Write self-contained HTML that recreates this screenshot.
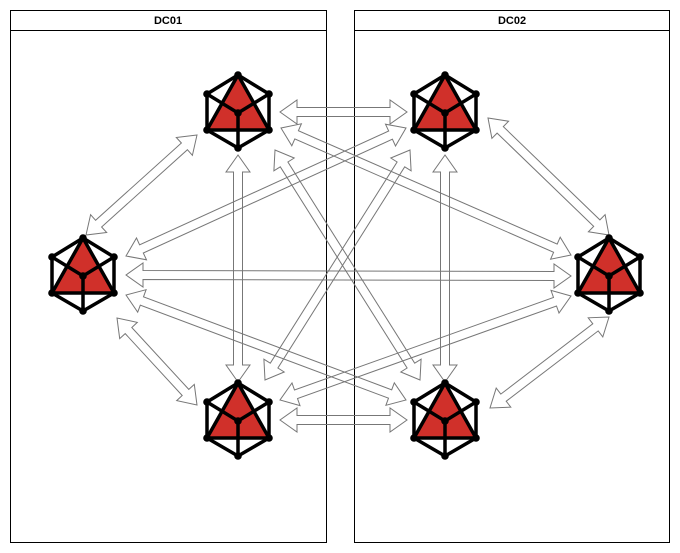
<!DOCTYPE html>
<html><head><style>
body{margin:0;width:680px;height:553px;background:#fff;overflow:hidden}
</style></head><body>
<svg id="s" width="680" height="553" xmlns="http://www.w3.org/2000/svg" style="position:absolute;left:0;top:0">
<rect x="10.5" y="10.5" width="316" height="532" fill="none" stroke="#000" stroke-width="1"/>
<line x1="10" y1="30.5" x2="326" y2="30.5" stroke="#000"/>
<text x="168" y="24" text-anchor="middle" font-family="Liberation Sans, sans-serif" font-size="11" font-weight="bold">DC01</text>
<rect x="354.5" y="10.5" width="315" height="532" fill="none" stroke="#000" stroke-width="1"/>
<line x1="354" y1="30.5" x2="670" y2="30.5" stroke="#000"/>
<text x="512" y="24" text-anchor="middle" font-family="Liberation Sans, sans-serif" font-size="11" font-weight="bold">DC02</text>
<g id="arrows" fill="none" stroke="#777" stroke-width="1"></g>
<g id="icons"></g>
</svg>
<script>
var N={A:[238,112],B:[445,112],C:[83,275],D:[609,275],E:[238,420],F:[445,420]};
var S={
A:{B:[280,112],D:[281,128],F:[275,150],E:[238,155],C:[197,135]},
B:{A:[407,112],C:[406,128],E:[410,150],F:[445,155],D:[488,118]},
C:{A:[86,235],B:[126,256],D:[126,275],F:[126,295],E:[117,318]},
D:{B:[609,235],A:[571,255],C:[571,276],E:[571,296],F:[609,317]},
E:{A:[238,382],B:[265,380],D:[280,400],F:[280,420],C:[197,405]},
F:{B:[445,382],A:[420,380],C:[406,400],E:[407,420],D:[490,408]}};
var P=[["A","B"],["A","C"],["A","E"],["A","D"],["A","F"],["B","C"],["B","F"],["B","E"],["B","D"],["C","D"],["C","E"],["C","F"],["D","E"],["D","F"],["E","F"]];
var ag=document.getElementById("arrows"),ig=document.getElementById("icons"),ns="http://www.w3.org/2000/svg";
P.forEach(function(p){
 var a=S[p[0]][p[1]],b=S[p[1]][p[0]],dx=b[0]-a[0],dy=b[1]-a[1],L=Math.hypot(dx,dy),ux=dx/L,uy=dy/L,nx=-uy,ny=ux;
 var x1=a[0],y1=a[1],x2=b[0],y2=b[1],h=17,w=4.5,W=12;
 function pt(x,y,s,o){return (x+ux*s+nx*o).toFixed(1)+","+(y+uy*s+ny*o).toFixed(1);}
 var pts=[pt(x1,y1,0,0),pt(x1,y1,h,W),pt(x1,y1,h,w),pt(x2,y2,-h,w),pt(x2,y2,-h,W),pt(x2,y2,0,0),pt(x2,y2,-h,-W),pt(x2,y2,-h,-w),pt(x1,y1,h,-w),pt(x1,y1,h,-W)];
 var pg=document.createElementNS(ns,"polygon");pg.setAttribute("points",pts.join(" "));ag.appendChild(pg);
});
for(var k in N){var c=N[k],x=c[0],y=c[1];
 var T=[x,y-37],UL=[x-31,y-18],UR=[x+31,y-18],LL=[x-31,y+18],LR=[x+31,y+18],B=[x,y+36],C=[x,y+1];
 var g=document.createElementNS(ns,"g");
 g.innerHTML='<polygon points="'+[T,UR,LR,B,LL,UL].join(" ")+'" fill="#fff" stroke="#000" stroke-width="3.5" stroke-linejoin="round"/>'+
 '<polygon points="'+[T,LL,LR].join(" ")+'" fill="#d0302a" stroke="#000" stroke-width="3.5" stroke-linejoin="round"/>'+
 '<polyline points="'+[UL,C,UR].join(" ")+'" fill="none" stroke="#000" stroke-width="3.5"/>'+
 '<line x1="'+C[0]+'" y1="'+C[1]+'" x2="'+B[0]+'" y2="'+B[1]+'" stroke="#000" stroke-width="3.5"/>'+
 [T,UL,UR,LL,LR,B,C].map(function(q){return '<circle cx="'+q[0]+'" cy="'+q[1]+'" r="3.8" fill="#000"/>';}).join("");
 ig.appendChild(g);}
</script>
</body></html>
